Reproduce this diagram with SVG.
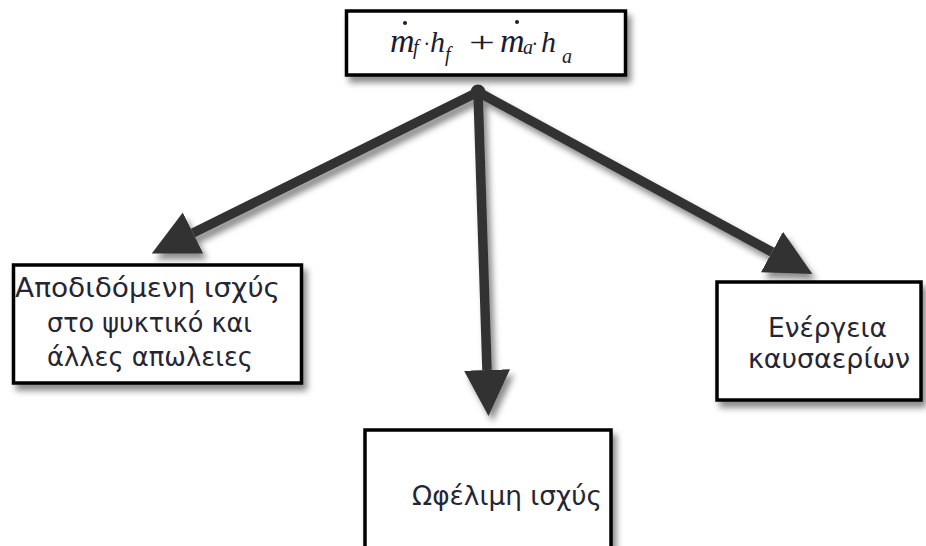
<svg xmlns="http://www.w3.org/2000/svg" width="926" height="546" viewBox="0 0 926 546">
<defs>
<filter id="sh" x="-20%" y="-20%" width="150%" height="160%">
<feDropShadow dx="4" dy="6" stdDeviation="3" flood-color="#000" flood-opacity="0.45"/>
</filter>
<marker id="ah" markerUnits="userSpaceOnUse" markerWidth="50" markerHeight="50" viewBox="0 -25 50 50" refX="0" refY="0" orient="auto">
<path d="M0,-23 L46,0 L0,23 z" fill="#333"/>
</marker>
<style>
.box{fill:#fff;stroke:#000;stroke-width:3.5}
.lbl{font-family:"DejaVu Sans","Liberation Sans",sans-serif;font-size:26px;fill:#262633;text-anchor:middle}
.mth{font-family:"Liberation Serif",serif;font-style:italic;fill:#1c1c30;font-size:30px}
.big{font-size:34px}
.sub{font-size:20px}
.con{stroke:#333;stroke-width:9.5;fill:none;marker-end:url(#ah)}
</style>
</defs>
<rect width="926" height="546" fill="#fff"/>
<g id="connectors" filter="url(#sh)">
<line class="con" x1="478" y1="92" x2="193" y2="233"/>
<line class="con" x1="478" y1="92" x2="487" y2="370"/>
<line class="con" x1="478" y1="92" x2="772" y2="252"/>
<circle cx="478" cy="92" r="7.5" fill="#333"/>
</g>
<g id="top">
<rect class="box" x="346.5" y="11" width="279" height="64" filter="url(#sh)"/>
<g class="mth">
<text class="big" x="390" y="52">m</text>
<text class="sub" x="413" y="54">f</text>
<text x="424" y="51" font-size="20">·</text>
<text x="430" y="52">h</text>
<text class="sub" x="445" y="61">f</text>
<text x="469" y="52" font-style="normal" textLength="26" lengthAdjust="spacingAndGlyphs">+</text>
<text class="big" x="500" y="52">m</text>
<text class="sub" x="523" y="54">a</text>
<text x="532" y="51" font-size="20">·</text>
<text x="541" y="52">h</text>
<text class="sub" x="562" y="63">a</text>
<circle cx="405" cy="23" r="2" fill="#1c1c30"/>
<circle cx="517" cy="22" r="2" fill="#1c1c30"/>
</g>
</g>
<g id="left">
<rect class="box" x="13.5" y="265" width="288" height="118" filter="url(#sh)"/>
<text class="lbl" x="147.5" y="297" textLength="265" lengthAdjust="spacingAndGlyphs">Αποδιδόμενη ισχύς</text>
<text class="lbl" x="149.5" y="332" textLength="205" lengthAdjust="spacingAndGlyphs">στο ψυκτικό και</text>
<text class="lbl" x="150" y="366" textLength="206" lengthAdjust="spacingAndGlyphs">άλλες απωλειες</text>
</g>
<g id="middle">
<rect class="box" x="365" y="430" width="246" height="130" filter="url(#sh)"/>
<text class="lbl" x="507" y="505" textLength="190" lengthAdjust="spacingAndGlyphs">Ωφέλιμη ισχύς</text>
</g>
<g id="right">
<rect class="box" x="717" y="282" width="204" height="118" filter="url(#sh)"/>
<text class="lbl" x="827.5" y="337" textLength="119" lengthAdjust="spacingAndGlyphs">Ενέργεια</text>
<text class="lbl" x="829" y="368" textLength="162" lengthAdjust="spacingAndGlyphs">καυσαερίων</text>
</g>
</svg>
